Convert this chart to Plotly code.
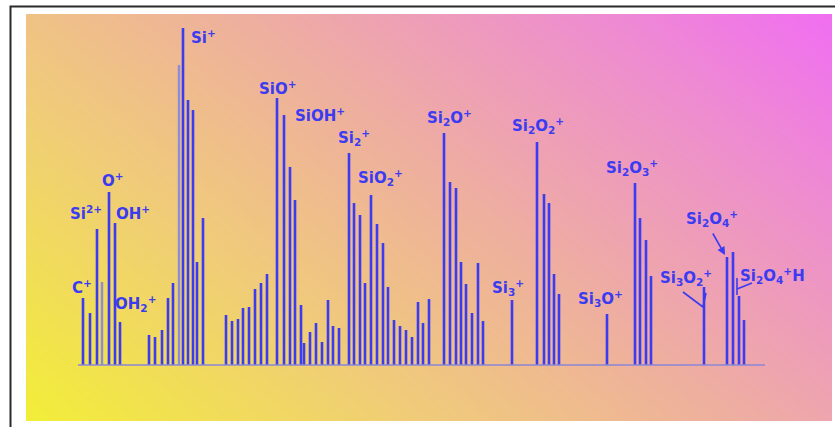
import numpy as np
import plotly.graph_objects as go

W, H = 835, 427

# Peak positions along the trace and their intensities (baseline = 0)
peak_pos = [83, 90, 97, 109, 115, 120,
            149, 155, 162, 168, 173, 183, 188, 193, 197, 203,
            226, 232, 238, 243, 249, 255, 261, 267, 277, 284, 290, 295, 301,
            304, 310, 316, 322, 328, 333, 339, 349, 354, 360, 365, 371, 377,
            383, 388, 394, 400, 406, 412, 418, 423, 429,
            444, 450, 456, 461, 466, 472, 478, 483,
            512,
            537, 544, 549, 554, 559,
            607,
            635, 640, 646, 651,
            704,
            727, 733, 739, 744]
peak_int = [67, 52, 136, 173, 142, 43,
            30, 28, 35, 67, 82, 337, 265, 255, 103, 147,
            50, 44, 46, 57, 58, 76, 82, 91, 267, 250, 198, 165, 60,
            22, 33, 42, 23, 65, 39, 37, 212, 162, 150, 82, 170, 141,
            122, 78, 45, 39, 35, 28, 63, 42, 66,
            232, 183, 177, 103, 81, 52, 102, 44,
            65,
            223, 171, 162, 91, 71,
            51,
            182, 147, 125, 89,
            78,
            108, 113, 69, 45]

# Faint shoulder traces drawn behind the main peaks
ghost_pos = [102, 179]
ghost_int = [83, 300]

# Ion labels and where they are written
ion_labels = ["C<sup>+</sup>", "Si<sup>2+</sup>", "O<sup>+</sup>", "OH<sup>+</sup>",
              "OH<sub>2</sub><sup>+</sup>", "Si<sup>+</sup>", "SiO<sup>+</sup>",
              "SiOH<sup>+</sup>", "Si<sub>2</sub><sup>+</sup>", "SiO<sub>2</sub><sup>+</sup>",
              "Si<sub>2</sub>O<sup>+</sup>", "Si<sub>2</sub>O<sub>2</sub><sup>+</sup>",
              "Si<sub>3</sub><sup>+</sup>", "Si<sub>3</sub>O<sup>+</sup>",
              "Si<sub>2</sub>O<sub>3</sub><sup>+</sup>", "Si<sub>2</sub>O<sub>4</sub><sup>+</sup>",
              "Si<sub>3</sub>O<sub>2</sub><sup>+</sup>", "Si<sub>2</sub>O<sub>4</sub><sup>+</sup>H"]
label_x = [82, 86, 113, 133, 135, 203, 278, 320, 354, 380, 449, 538, 508, 600, 632, 712, 686, 772]
label_y = [78, 152, 185, 152, 62, 328, 277, 250, 228, 188, 248, 240, 78, 67, 198, 147, 88, 90]

X0, X1 = 26, 832          # plotting window, horizontal
Y0, Y1 = -56, 351         # plotting window, vertical
ink = "#3b3bf2"

fig = go.Figure()

# diagonal yellow -> magenta wash behind the spectrum
gx = np.linspace(X0 - 10, X1 + 10, 80)
gy = np.linspace(Y0 - 10, Y1 + 10, 40)
u = (gx - X0) / (X1 - X0)
v = (gy - Y0) / (Y1 - Y0)
wash = 0.62 * u[None, :] + 0.38 * v[:, None]
fig.add_trace(go.Heatmap(
    x=gx, y=gy, z=wash, zsmooth="best", showscale=False, hoverinfo="skip",
    zmin=0, zmax=1,
    colorscale=[[0.0, "#f2ee38"], [0.3, "#f0cc78"], [0.55, "#eeaea0"],
                [0.8, "#ee8ece"], [1.0, "#f06ef2"]]))

fig.add_trace(go.Bar(x=ghost_pos, y=ghost_int, width=2.4,
                     marker=dict(color="#8c8cd8", line_width=0), hoverinfo="skip"))
fig.add_trace(go.Bar(x=peak_pos, y=peak_int, width=2.6,
                     marker=dict(color=ink, line_width=0), hoverinfo="skip"))

for txt, lx, ly in zip(ion_labels, label_x, label_y):
    fig.add_annotation(x=lx, y=ly, text=txt, showarrow=False,
                       font=dict(family="DejaVu Sans", size=15, color=ink, weight="bold"))

# pointer strokes
fig.add_annotation(x=725, y=110, ax=712, ay=133, xref="x", yref="y", axref="x", ayref="y",
                   text="", showarrow=True, arrowhead=2, arrowsize=1, arrowwidth=1.6,
                   arrowcolor=ink)
for (xa, ya, xb, yb) in [(683, 73, 703, 58), (706, 72, 703, 58), (737, 87, 737, 70),
                         (737, 76, 752, 82)]:
    fig.add_shape(type="line", x0=xa, y0=ya, x1=xb, y1=yb, xref="x", yref="y",
                  line=dict(color=ink, width=1.6))

# baseline
fig.add_shape(type="line", x0=78, x1=765, y0=0, y1=0, xref="x", yref="y",
              line=dict(color="#8a86d6", width=1.5))

# outer frame
fig.add_shape(type="rect", xref="paper", yref="paper",
              x0=10.5 / W, x1=1.05, y0=-0.05, y1=1 - 6.5 / H,
              line=dict(color="#2a2a2a", width=2), layer="above")

fig.update_layout(
    width=W, height=H, autosize=False,
    margin=dict(l=0, r=0, t=0, b=0),
    paper_bgcolor="white", plot_bgcolor="white",
    showlegend=False, barmode="overlay",
    xaxis=dict(range=[X0, X1], domain=[X0 / W, X1 / W], visible=False, fixedrange=True),
    yaxis=dict(range=[Y0, Y1], domain=[(H - 421) / H, (H - 14) / H], visible=False,
               fixedrange=True),
)

fig.write_html("out.html")
